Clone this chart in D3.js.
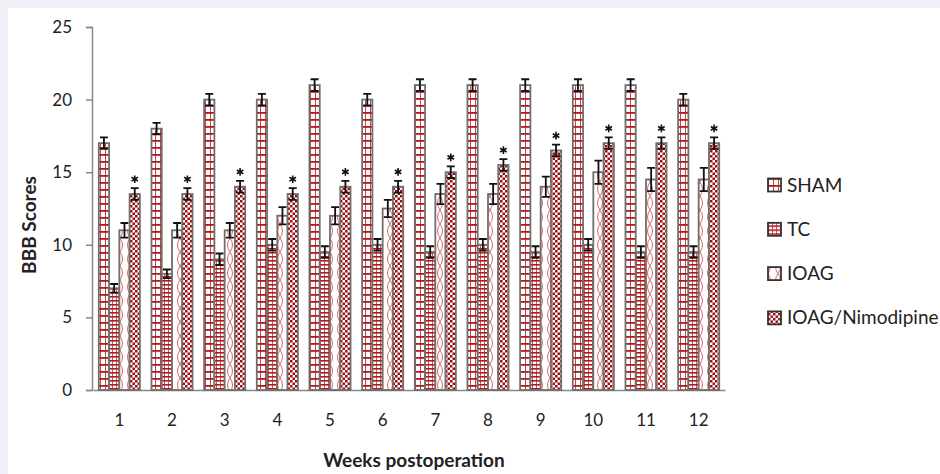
<!DOCTYPE html>
<html>
<head>
<meta charset="utf-8">
<script src="https://cdn.jsdelivr.net/npm/d3@7"></script>
<style>
  body { margin: 0; background: #f0f1f6; }
  svg { display: block; }
  text { font-family: Lato, "Open Sans", sans-serif; fill: #222; }
</style>
</head>
<body>
<svg class="chart" width="940" height="474"></svg>
<script>

const weeks = ['1', '2', '3', '4', '5', '6', '7', '8', '9', '10', '11', '12'];
const groups = ['SHAM', 'TC', 'IOAG', 'IOAG/Nimodipine'];

const sham = [17, 18, 20, 20, 21, 20, 21, 21, 21, 21, 21, 20];
const tc = [7, 8, 9, 10, 9.5, 10, 9.5, 10, 9.5, 10, 9.5, 9.5];
const ioag = [11, 11, 11, 12, 12, 12.5, 13.5, 13.5, 14, 15, 14.5, 14.5];
const nimo = [13.5, 13.5, 14, 13.5, 14, 14, 15, 15.5, 16.5, 17, 17, 17];

const shamErr = [0.4, 0.4, 0.4, 0.4, 0.4, 0.4, 0.4, 0.4, 0.4, 0.4, 0.4, 0.4];
const tcErr = [0.3, 0.3, 0.4, 0.4, 0.4, 0.4, 0.4, 0.4, 0.4, 0.4, 0.4, 0.4];
const ioagErr = [0.5, 0.5, 0.5, 0.6, 0.6, 0.6, 0.7, 0.7, 0.7, 0.8, 0.8, 0.8];
const nimoErr = [0.4, 0.4, 0.4, 0.4, 0.4, 0.4, 0.4, 0.4, 0.4, 0.4, 0.4, 0.4];

const yTicks = [0, 5, 10, 15, 20, 25];

const series = [
    { name: groups[0], values: sham, err: shamErr, fill: 'url(#p-sham)' },
    { name: groups[1], values: tc, err: tcErr, fill: 'url(#p-tc)' },
    { name: groups[2], values: ioag, err: ioagErr, fill: 'url(#p-ioag)' },
    { name: groups[3], values: nimo, err: nimoErr, fill: 'url(#p-nimo)', star: true }
];

const red = '#b3191c';

const svg = d3.select('svg.chart');

svg.append('rect')
    .attr('x', 8).attr('y', 8)
    .attr('width', 932).attr('height', 466)
    .attr('fill', '#fff');

// patterns
const defs = svg.append('defs');

const pSham = defs.append('pattern').attr('id', 'p-sham')
    .attr('patternUnits', 'userSpaceOnUse').attr('width', 5).attr('height', 7);
pSham.append('rect').attr('width', 5).attr('height', 7).attr('fill', '#fff');
pSham.append('rect').attr('width', 5).attr('height', 1.8).attr('fill', red);
pSham.append('rect').attr('width', 1).attr('height', 7).attr('fill', red).attr('opacity', 0.8);

const pTc = defs.append('pattern').attr('id', 'p-tc')
    .attr('patternUnits', 'userSpaceOnUse').attr('width', 4).attr('height', 4);
pTc.append('rect').attr('width', 4).attr('height', 4).attr('fill', '#fff');
pTc.append('rect').attr('width', 4).attr('height', 1.6).attr('fill', red);
pTc.append('rect').attr('width', 1).attr('height', 4).attr('fill', red).attr('opacity', 0.7);

const pIoag = defs.append('pattern').attr('id', 'p-ioag')
    .attr('patternUnits', 'userSpaceOnUse').attr('width', 10).attr('height', 14);
pIoag.append('rect').attr('width', 10).attr('height', 14).attr('fill', '#fff');
pIoag.append('path')
    .attr('d', 'M0,0 Q5,7 0,14 M10,0 Q5,7 10,14')
    .attr('fill', 'none').attr('stroke', '#d66').attr('stroke-width', 1);

const pNimo = defs.append('pattern').attr('id', 'p-nimo')
    .attr('patternUnits', 'userSpaceOnUse').attr('width', 5).attr('height', 5);
pNimo.append('rect').attr('width', 5).attr('height', 5).attr('fill', '#fff');
pNimo.append('rect').attr('width', 2.5).attr('height', 2.5).attr('fill', '#9e0f12');
pNimo.append('rect').attr('x', 2.5).attr('y', 2.5).attr('width', 2.5).attr('height', 2.5).attr('fill', '#9e0f12');

// scales
const x0 = d3.scaleBand()
    .domain(weeks)
    .range([93, 725])
    .paddingInner(0.22)
    .paddingOuter(0.11);

const x1 = d3.scaleBand()
    .domain(groups)
    .range([0, x0.bandwidth()]);

const y = d3.scaleLinear()
    .domain([0, 25])
    .range([390, 27]);

// axes
const yAxis = svg.append('g')
    .attr('transform', 'translate(92,0)')
    .call(d3.axisLeft(y).tickValues(yTicks).tickSize(6).tickPadding(14));
yAxis.select('.domain').attr('stroke', '#888').attr('stroke-width', 1.5);
yAxis.selectAll('.tick line').attr('stroke', '#888').attr('stroke-width', 1.5);
yAxis.selectAll('.tick text')
    .style('font-size', '17px').style('font-family', 'Lato, "Open Sans", sans-serif').attr('fill', '#222');

const xAxis = svg.append('g')
    .attr('transform', 'translate(0,390)')
    .call(d3.axisBottom(x0).tickSize(0).tickPadding(24).tickSizeOuter(0));
xAxis.select('.domain').attr('stroke', '#888').attr('stroke-width', 1.5);
xAxis.selectAll('.tick text')
    .style('font-size', '17px').style('font-family', 'Lato, "Open Sans", sans-serif').attr('fill', '#222');

// bars
const bw = x1.bandwidth();

series.forEach(s => {

    const g = svg.append('g');

    const data = weeks.map((w, i) => ({ w: w, v: s.values[i], e: s.err[i] }));

    g.selectAll('rect.bar')
        .data(data)
        .join('rect')
        .classed('bar', true)
        .attr('x', d => x0(d.w) + x1(s.name))
        .attr('y', d => y(d.v))
        .attr('width', bw)
        .attr('height', d => y(0) - y(d.v))
        .attr('fill', s.fill)
        .attr('stroke', '#6f6f6f')
        .attr('stroke-width', 1.8);

    // error bars
    const cx = d => x0(d.w) + x1(s.name) + bw / 2;

    g.selectAll('path.err')
        .data(data)
        .join('path')
        .classed('err', true)
        .attr('d', d => {
            const c = cx(d), t = y(d.v + d.e), b = y(d.v - d.e);
            return `M${c},${b} L${c},${t} M${c - 4},${t} L${c + 4},${t} M${c - 4},${b} L${c + 4},${b}`;
        })
        .attr('fill', 'none')
        .attr('stroke', '#111')
        .attr('stroke-width', 1.8);

    if (s.star) {
        g.selectAll('path.star')
            .data(data)
            .join('path')
            .classed('star', true)
            .attr('transform', d => `translate(${cx(d)},${y(d.v + d.e) - 9})`)
            .attr('d', d3.symbol(d3.symbolAsterisk, 40))
            .attr('fill', 'none')
            .attr('stroke', '#111')
            .attr('stroke-width', 1.6);
    }

});

// axis titles
svg.append('text')
    .attr('transform', 'translate(36,225) rotate(-90)')
    .attr('text-anchor', 'middle')
    .style('font-size', '19px')
    .style('font-weight', 'bold')
    .text('BBB Scores');

svg.append('text')
    .attr('x', 414).attr('y', 467)
    .attr('text-anchor', 'middle')
    .style('font-size', '19px')
    .style('font-weight', 'bold')
    .text('Weeks postoperation');

// legend
const legend = svg.append('g').attr('transform', 'translate(768,185)');

const li = legend.selectAll('g')
    .data(series)
    .join('g')
    .attr('transform', (d, i) => `translate(0,${i * 44.3})`);

li.append('rect')
    .attr('x', 0).attr('y', -6.5)
    .attr('width', 13).attr('height', 13)
    .attr('fill', d => d.fill)
    .attr('stroke', '#333')
    .attr('stroke-width', 1.8);

li.append('text')
    .attr('x', 19).attr('y', 6.5)
    .style('font-size', '19px')
    .text(d => d.name);

</script>
</body>
</html>
